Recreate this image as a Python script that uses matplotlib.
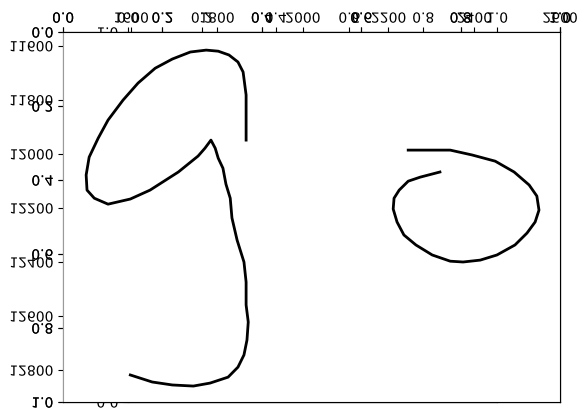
import matplotlib
matplotlib.use("Agg")
import matplotlib.pyplot as plt
from matplotlib import patheffects
from matplotlib.transforms import Affine2D

# first pen stroke (the "6"-like shape)
stroke1_x = [1868, 1868, 1861, 1849, 1828, 1803, 1775, 1738, 1696, 1656, 1616, 1581,
             1546, 1523, 1502, 1495, 1497, 1514, 1546, 1598, 1644, 1710, 1756, 1772,
             1786, 1796, 1803, 1814, 1821, 1831, 1835, 1847, 1863, 1868, 1868, 1873,
             1870, 1863, 1849, 1826, 1784, 1745, 1696, 1649, 1598]
stroke1_y = [11949, 11782, 11697, 11660, 11634, 11620, 11616, 11623, 11649, 11683, 11738, 11801,
             11875, 11942, 12012, 12078, 12134, 12164, 12186, 12167, 12134, 12067, 12008, 11979,
             11949, 11979, 12016, 12053, 12112, 12164, 12237, 12319, 12400, 12474, 12559, 12622,
             12689, 12744, 12789, 12826, 12848, 12859, 12855, 12844, 12818]

# second pen stroke (the loop on the right)
stroke2_x = [2246, 2344, 2395, 2449, 2493, 2528, 2546, 2551, 2542, 2523, 2495, 2453,
             2414, 2374, 2344, 2302, 2264, 2236, 2220, 2211, 2213, 2225, 2246, 2274, 2320]
stroke2_y = [11986, 11986, 12004, 12027, 12067, 12115, 12156, 12208, 12252, 12293, 12337, 12374,
             12393, 12400, 12397, 12374, 12337, 12300, 12252, 12204, 12164, 12134, 12101, 12086, 12067]

x_ticks = [1600, 1800, 2000, 2200, 2400, 2600]
y_ticks = [11600, 11800, 12000, 12200, 12400, 12600, 12800]
unit_ticks = [0.0, 0.2, 0.4, 0.6, 0.8, 1.0]


class FlipV(patheffects.AbstractPathEffect):
    # the reference picture is upside down, so the labels are drawn mirrored
    def draw_path(self, renderer, gc, tpath, affine, rgbFace=None):
        box = tpath.get_extents(affine)
        mid = (box.y0 + box.y1) / 2
        flip = affine + Affine2D().translate(0, -mid).scale(1, -1).translate(0, mid)
        renderer.draw_path(gc, tpath, flip, rgbFace)


def setup(ax, xt, xl, yt, yl):
    ax.xaxis.tick_top()
    ax.set_xticks(xt, xl)
    ax.set_yticks(yt, yl)
    ax.tick_params(axis="x", pad=1.1)
    ax.spines["left"].set_color("#9a9a9a")
    for lab in ax.get_xticklabels() + ax.get_yticklabels():
        lab.set_path_effects([FlipV()])


unit_labels = ["%.1f" % v for v in unit_ticks]

fig = plt.figure(figsize=(5.87, 4.18), dpi=100)
main_box = [63 / 587, 16 / 418, 497 / 587, 370 / 418]
inner_box = [128 / 587, 16 / 418, 369 / 587, 370 / 418]

# empty 0..1 axes, twice on top of each other
for i in range(2):
    ax0 = fig.add_axes(main_box, label="unit%d" % i)
    ax0.set_xlim(0, 1)
    ax0.set_ylim(1, 0)
    setup(ax0, unit_ticks, unit_labels, unit_ticks, unit_labels)

# a narrower empty axes, mostly hidden
ax1 = fig.add_axes(inner_box, label="inner")
ax1.set_xlim(0, 1)
ax1.set_ylim(0, 1)
setup(ax1, unit_ticks, unit_labels, unit_ticks, unit_labels)

# the axes with the strokes
ax = fig.add_axes(main_box, label="data")
ax.set_facecolor("white")
ax.plot(stroke1_x, stroke1_y, color="black", lw=2)
ax.plot(stroke2_x, stroke2_y, color="black", lw=2)
ax.set_xlim(1441, 2600)
ax.set_ylim(12918, 11549)
setup(ax, x_ticks, [str(v) for v in x_ticks], y_ticks, [str(v) for v in y_ticks])

fig.savefig("out.png", dpi=100)
